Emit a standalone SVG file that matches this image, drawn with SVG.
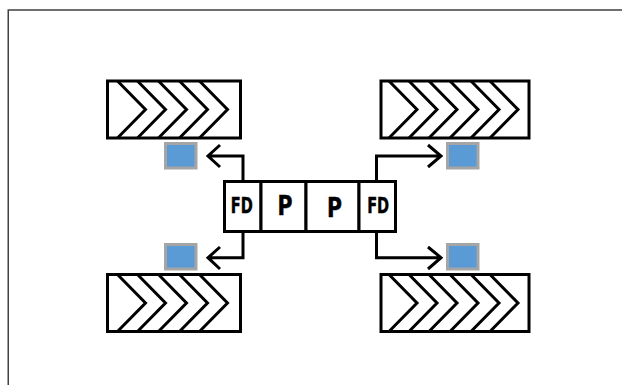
<svg xmlns="http://www.w3.org/2000/svg" width="622" height="385" viewBox="0 0 622 385">
<style>
.f{fill:none;stroke:#404040;stroke-width:1.5}
.b{fill:#fff;stroke:#000;stroke-width:3}
.c{fill:none;stroke:#000;stroke-width:3}
.s{fill:#5b9bd5;stroke:#a5a5a5;stroke-width:3}
text{font-family:"DejaVu Sans Condensed","DejaVu Sans",sans-serif;font-weight:bold;text-anchor:middle;fill:#000;stroke:#000;stroke-width:.4}
</style>
<defs>
<g id="tire-l">
<rect class="b" x="0" y="0" width="133" height="57"/>
<path class="c" d="M10 0L38 28.500L10 57M30 0L58 28.500L30 57M51 0L79 28.500L51 57M72 0L100 28.500L72 57M92 0L120 28.500L92 57"/>
</g>
<g id="tire-r">
<rect class="b" x="0" y="0" width="148" height="57"/>
<path class="c" d="M8 0L36 28.500L8 57M28 0L56 28.500L28 57M48 0L76 28.500L48 57M69 0L97 28.500L69 57M90 0L118 28.500L90 57M109 0L137 28.500L109 57"/>
</g>
</defs>
<path class="f" d="M8.250 385V10H622"/>
<g id="tire-tl"><use href="#tire-l" x="107.500" y="81"/></g>
<g id="tire-tr"><use href="#tire-r" x="381" y="81"/></g>
<g id="tire-bl"><use href="#tire-l" x="107.500" y="274.500"/></g>
<g id="tire-br"><use href="#tire-r" x="381" y="274.500"/></g>
<g id="sensor-tl"><rect class="s" x="165.500" y="143.500" width="30.500" height="24.500"/></g>
<g id="sensor-tr"><rect class="s" x="447.500" y="143.500" width="30.500" height="24.500"/></g>
<g id="sensor-bl"><rect class="s" x="165.500" y="244.500" width="30.500" height="24.500"/></g>
<g id="sensor-br"><rect class="s" x="447.500" y="244.500" width="30.500" height="24.500"/></g>
<g id="connectors">
<path class="c" d="M243 181V156H208M220 145L208 156L220 167"/>
<path class="c" d="M243 232V257.700H208M220 247L208 257.700L220 269"/>
<path class="c" d="M376.500 181V156H441M428 145L441 156L428 167"/>
<path class="c" d="M376.500 232V257.700H441M428 247L441 257.700L428 269"/>
</g>
<g id="fd-left"><rect class="b" x="224.500" y="181.500" width="36.500" height="50"/><text x="241.800" y="213" font-size="20.500" textLength="22" lengthAdjust="spacingAndGlyphs">FD</text></g>
<g id="p-left"><rect class="b" x="261" y="181.500" width="45" height="50"/><text x="285" y="215" font-size="27" textLength="15" lengthAdjust="spacingAndGlyphs">P</text></g>
<g id="p-right"><rect class="b" x="306" y="181.500" width="53" height="50"/><text x="334.500" y="216.500" font-size="27" textLength="15" lengthAdjust="spacingAndGlyphs">P</text></g>
<g id="fd-right"><rect class="b" x="359" y="181.500" width="36.500" height="50"/><text x="378.200" y="213" font-size="20.500" textLength="22" lengthAdjust="spacingAndGlyphs">FD</text></g>
</svg>
